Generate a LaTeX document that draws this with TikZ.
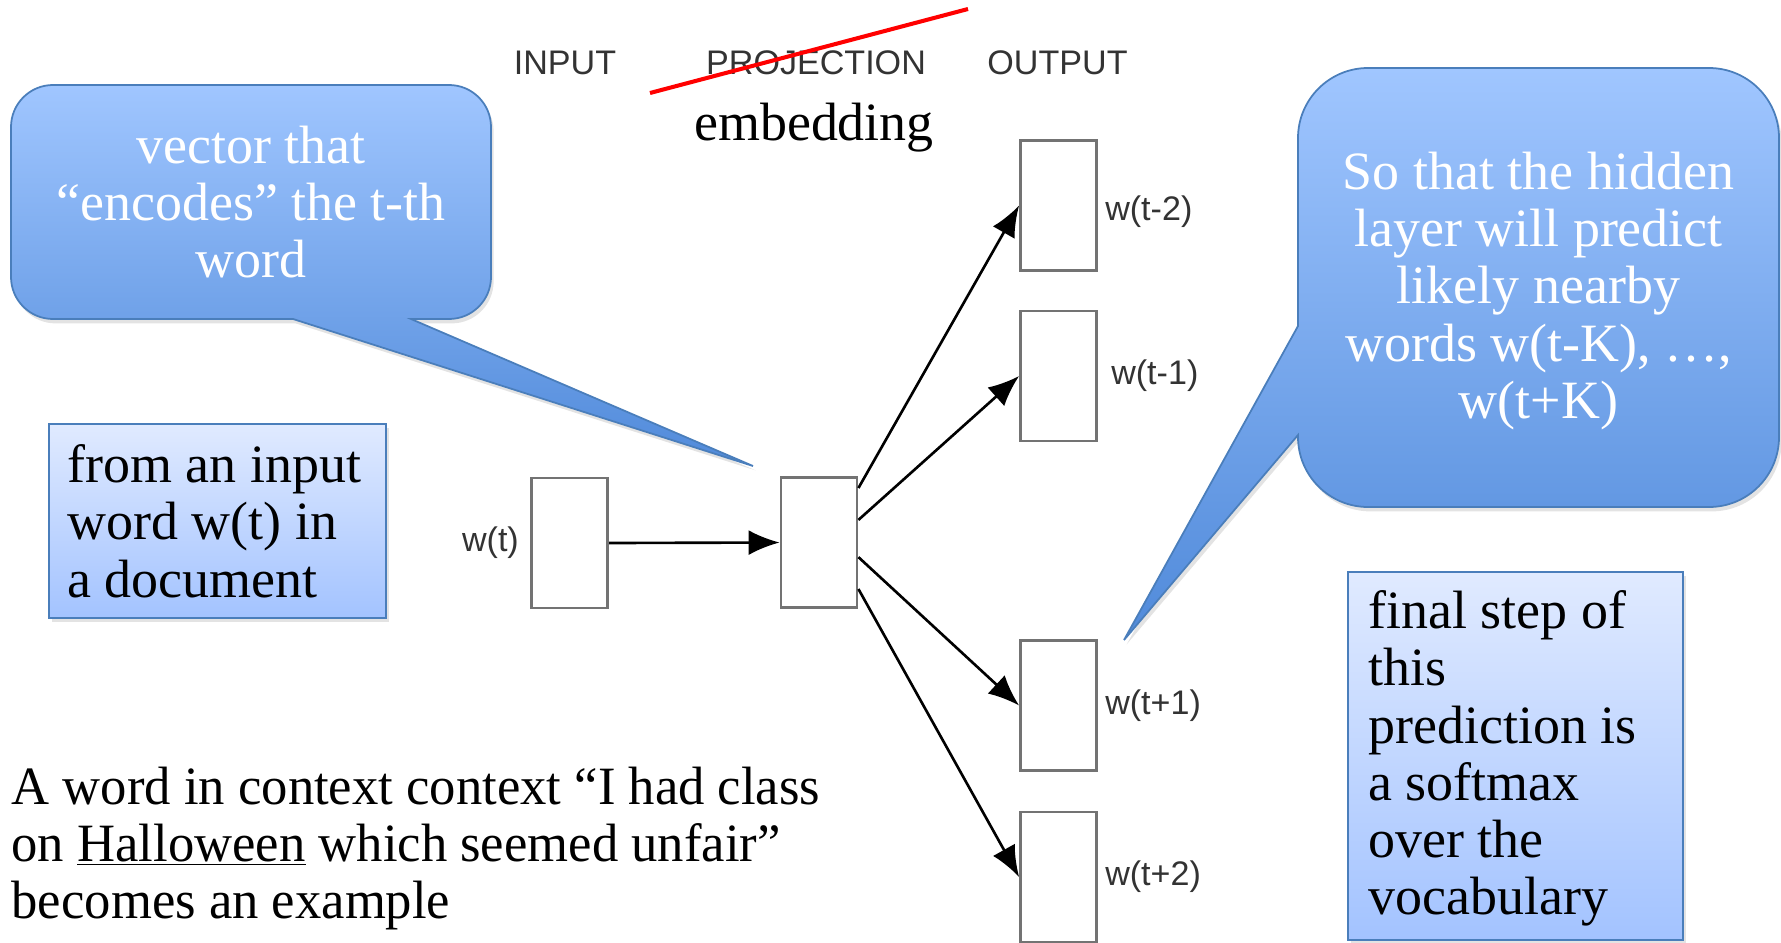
\documentclass[tikz,border=0pt]{standalone}
\usepackage{fontspec}
\setmainfont{Liberation Serif}
\setsansfont{Liberation Sans}
\usetikzlibrary{arrows.meta,positioning,calc,shadows}

\definecolor{calltop}{RGB}{160,198,255}
\definecolor{callbot}{RGB}{80,138,218}
\definecolor{callline}{RGB}{74,126,187}
\definecolor{notetop}{RGB}{224,234,255}
\definecolor{notebot}{RGB}{163,195,255}

\begin{document}
\begin{tikzpicture}[x=0.2cm,y=0.2cm]
  \tikzstyle{every node}+=[inner sep=0pt]
  \tikzstyle{unit}=[draw=black!55, line width=1.6pt, minimum width=1.52cm, minimum height=2.6cm]
  \tikzstyle{lbl}=[font=\sffamily\fontsize{19.4}{22}\selectfont, text=black!80]
  \tikzstyle{big}=[font=\fontsize{30.7}{32.6}\selectfont]
  \tikzstyle{flow}=[-{Latex[length=0.62cm,width=0.5cm]}, line width=1.5pt]
  \tikzstyle{soft}=[drop shadow={shadow xshift=1.5pt, shadow yshift=-2.5pt, opacity=0.22}]
  \tikzstyle{callout}=[draw=callline, line width=1pt, top color=calltop, bottom color=callbot, soft]
  \tikzstyle{note}=[draw=callline, line width=1pt, top color=notetop, bottom color=notebot, soft]
  \useasboundingbox (0,0) rectangle (178.1,-94.2);

  % layer titles
  \node[lbl] (hin) at (56.5,-6.25) {INPUT};
  \node[lbl] (hproj) at (81.6,-6.25) {PROJECTION};
  \node[lbl] (hout) at (105.75,-6.25) {OUTPUT};
  \coordinate (s1) at (65.0,-9.3);
  \coordinate (s2) at (96.8,-0.9);
  \draw [red, line width=2.3pt] (s1) -- (s2);
  \node[big] (emb) at (81.4,-12.75) {embedding};

  % speech bubbles
  \draw [callout] (29.3,-31.9) -- (75.3,-46.6) -- (41.1,-31.9) -- (44.9,-31.9)
    arc [start angle=270, end angle=360, radius=0.84cm] -- (49.1,-12.7)
    arc [start angle=0, end angle=90, radius=0.84cm] -- (5.3,-8.5)
    arc [start angle=90, end angle=180, radius=0.84cm] -- (1.1,-27.7)
    arc [start angle=180, end angle=270, radius=0.84cm] -- cycle;
  \node[big, text=white, align=center] (enc) at (25.1,-20.2) {vector that\\“encodes” the t-th\\word};
  \draw [callout] (129.8,-32.6) -- (112.4,-64.0) -- (129.8,-43.5) -- (129.8,-43.7)
    arc [start angle=180, end angle=270, radius=1.4cm] -- (170.9,-50.7)
    arc [start angle=270, end angle=360, radius=1.4cm] -- (177.9,-13.8)
    arc [start angle=0, end angle=90, radius=1.4cm] -- (136.8,-6.8)
    arc [start angle=90, end angle=180, radius=1.4cm] -- cycle;
  \node[big, text=white, align=center] (pred) at (153.85,-29.1) {So that the hidden\\layer will predict\\likely nearby\\words w(t-K), …,\\w(t+K)};

  % side notes
  \node[note, minimum width=6.74cm, minimum height=3.88cm] (src) at (21.75,-52.1) {};
  \node[big, align=left, right=0.38cm of src.west] (srctext) {from an input\\word w(t) in\\a document};
  \node[note, minimum width=6.7cm, minimum height=7.36cm] (soft) at (151.55,-75.6) {};
  \node[big, align=left, right=0.42cm of soft.west, yshift=-0.05cm] (softtext) {final step of\\this\\prediction is\\a softmax\\over the\\vocabulary};
  \node[big, anchor=west, align=left, xscale=0.976, transform shape] (ctx) at (1.13,-84.85) {A word in context context “I had class\\on \underline{Halloween} which seemed unfair”\\becomes an example};

  % skip-gram network
  \node[unit] (win) at (56.96,-54.3) {};
  \node[unit] (proj) at (81.9,-54.25) {};
  \node[unit] (out1) at (105.85,-20.55) {};
  \node[unit] (out2) at (105.85,-37.6) {};
  \node[unit] (out3) at (105.85,-70.55) {};
  \node[unit] (out4) at (105.85,-87.7) {};
  \node[lbl, left=0.22cm of win] (lwin) {w(t)};
  \node[lbl, right=0.14cm of out1, yshift=-0.12cm] (lout1) {w(t-2)};
  \node[lbl, right=0.26cm of out2] (lout2) {w(t-1)};
  \node[lbl, right=0.14cm of out3] (lout3) {w(t+1)};
  \node[lbl, right=0.14cm of out4] (lout4) {w(t+2)};
  \draw [flow] (win.east) -- (proj.west);
  \draw [flow] ($(proj.north east)!0.09!(proj.south east)$) -- (out1.west);
  \draw [flow] ($(proj.north east)!0.33!(proj.south east)$) -- (out2.west);
  \draw [flow] ($(proj.north east)!0.61!(proj.south east)$) -- (out3.west);
  \draw [flow] ($(proj.north east)!0.85!(proj.south east)$) -- (out4.west);
\end{tikzpicture}
\end{document}
